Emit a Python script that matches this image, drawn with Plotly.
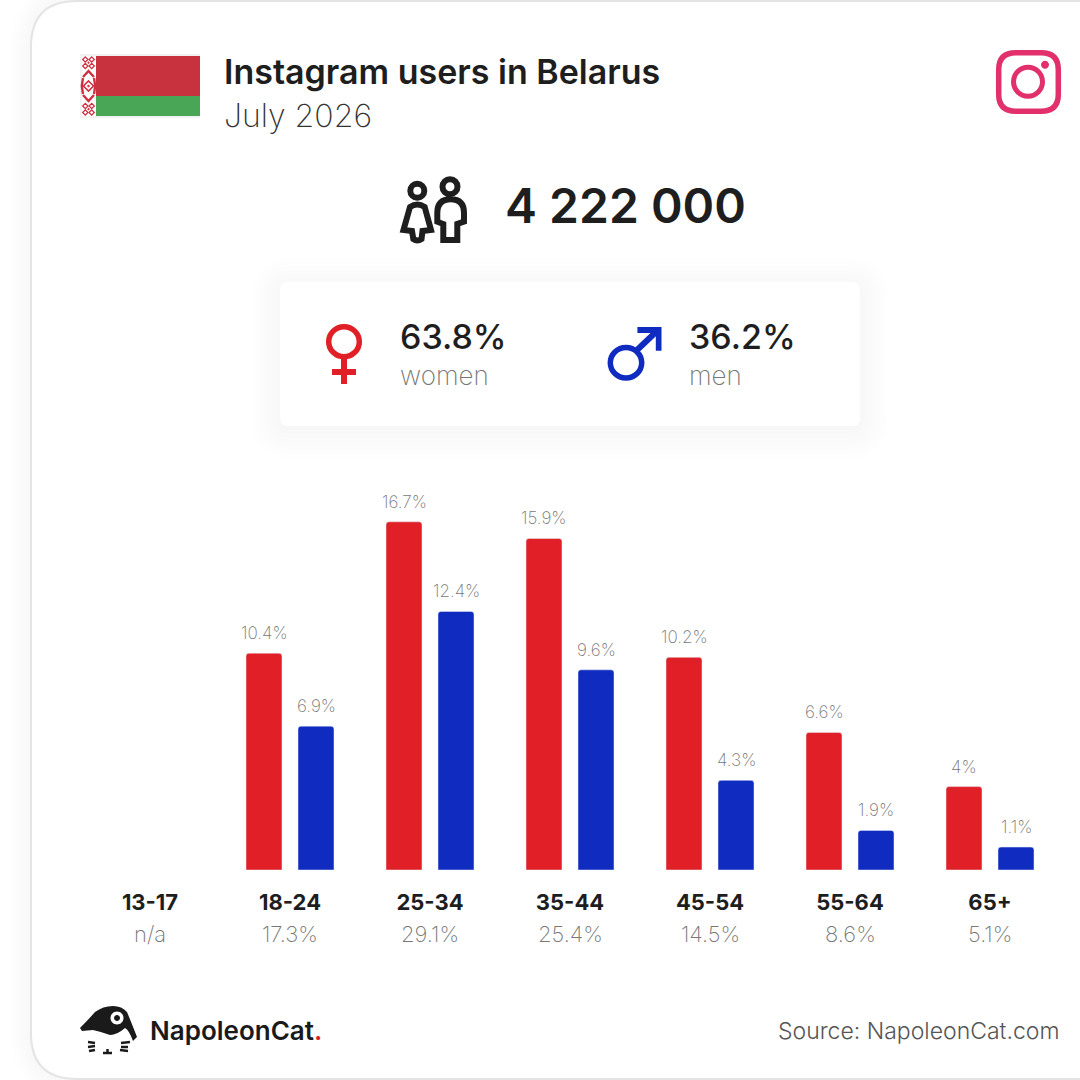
import plotly.graph_objects as go

# values
age_groups = ["13-17", "18-24", "25-34", "35-44", "45-54", "55-64", "65+"]
women = [None, 10.4, 16.7, 15.9, 10.2, 6.6, 4]
men = [None, 6.9, 12.4, 9.6, 4.3, 1.9, 1.1]
totals = ["n/a", "17.3%", "29.1%", "25.4%", "14.5%", "8.6%", "5.1%"]

RED = "#e01f26"
BLUE = "#0f2bc0"
DARK = "#1e1e1e"
GREY = "#777777"
FLAG_RED = "#cf3040"
FONT = "Inter"
W = 1080


def px(x):
    return x / W


def py(y):
    return 1 - y / W


def path(*parts):
    # parts are SVG commands given in pixels from the top left of the window
    out = []
    for p in parts:
        if isinstance(p, str):
            out.append(p)
        else:
            out.append(f"{px(p[0]):.5f},{py(p[1]):.5f}")
    return " ".join(out)


def poly(*pts):
    d = ["M", pts[0]]
    for p in pts[1:]:
        d += ["L", p]
    return path(*d, "Z")


def rounded(x0, y0, x1, y1, r):
    return path("M", (x0 + r, y0), "L", (x1 - r, y0), "Q", (x1, y0), (x1, y0 + r),
                "L", (x1, y1 - r), "Q", (x1, y1), (x1 - r, y1),
                "L", (x0 + r, y1), "Q", (x0, y1), (x0, y1 - r),
                "L", (x0, y0 + r), "Q", (x0, y0), (x0 + r, y0), "Z")


def oval(cx, cy, rx, ry):
    kx, ky = 0.5523 * rx, 0.5523 * ry
    return path("M", (cx - rx, cy), "C", (cx - rx, cy - ky), (cx - kx, cy - ry), (cx, cy - ry),
                "C", (cx + kx, cy - ry), (cx + rx, cy - ky), (cx + rx, cy),
                "C", (cx + rx, cy + ky), (cx + kx, cy + ry), (cx, cy + ry),
                "C", (cx - kx, cy + ry), (cx - rx, cy + ky), (cx - rx, cy), "Z")


def circle(cx, cy, r):
    return oval(cx, cy, r, r)


def diamond(cx, cy, r):
    return poly((cx, cy - r), (cx + r, cy), (cx, cy + r), (cx - r, cy))


shapes = []


def add(d, fill=None, line=None, width=0):
    shapes.append(dict(type="path", xref="paper", yref="paper", path=d, layer="below",
                       fillcolor=fill or "rgba(0,0,0,0)",
                       line=dict(color=line or "rgba(0,0,0,0)", width=width)))


def label(text, x, y, size, color=DARK, weight=400, anchor="left"):
    return dict(text=text, xref="paper", yref="paper", x=px(x), y=py(y), showarrow=False,
                xanchor=anchor, yanchor="middle", align=anchor,
                font=dict(family=FONT, size=size, color=color, weight=weight))


# outer card with a soft shadow
for i in range(8):
    add(rounded(31 - 3 * i, 1 - 3 * i, 1200, 1079 + 3 * i, 46 + 3 * i), fill="rgba(0,0,0,0.004)")
add(rounded(31, 1, 1200, 1079, 46), fill="white", line="#e4e4e4", width=2)

# flag
add(rounded(80, 54, 200, 118, 0), fill="#f2f2f2")
add(rounded(82, 56, 96, 116, 0), fill="white")
add(rounded(96, 56, 200, 96, 0), fill="#c8323f")
add(rounded(96, 96, 200, 116, 0), fill="#4aa657")
# ornament strip
for cy in [59.5, 66, 106, 112.5]:
    for cx in [85.3, 91.7]:
        add(diamond(cx, cy, 2.6), line=FLAG_RED, width=1.3)
add(diamond(88.5, 62.7, 1.4), fill=FLAG_RED)
add(diamond(88.5, 109.2, 1.4), fill=FLAG_RED)
add(diamond(88.5, 86, 5), line=FLAG_RED, width=1.6)
add(diamond(88.5, 86, 1.6), fill=FLAG_RED)
for y0, y1 in [(77, 71), (95, 101)]:
    add(path("M", (83, y0), "L", (88.5, y1), "L", (94, y0)), line=FLAG_RED, width=2.4)
for x0, x1 in [(83, 81.8), (94, 95.2)]:
    add(path("M", (x0, 78), "L", (x1, 86), "L", (x0, 94)), line=FLAG_RED, width=2.4)

# instagram icon
add(rounded(998.7, 52.7, 1058.3, 111.3, 17), line="#e2306c", width=5.5)
add(circle(1028, 81.7, 14.5), line="#e2306c", width=5)
add(circle(1045, 64.7, 4), fill="#e2306c")

# people icon
add(circle(417.3, 190.7, 7), line=DARK, width=6)
add(circle(450, 186.7, 7.5), line=DARK, width=6)
add(path("M", (410, 207), "Q", (417.3, 202), (424.7, 207), "L", (431, 230), "L", (422.5, 231),
         "L", (421.5, 239), "Q", (417.3, 242), (413.3, 239), "L", (412, 231), "L", (403.5, 230), "Z"),
    line=DARK, width=6)
add(path("M", (443.3, 240), "L", (443.3, 224), "L", (437.3, 221.7), "L", (437.3, 213),
         "Q", (437.3, 199.3), (450.7, 199.3), "Q", (464, 199.3), (464, 213),
         "L", (464, 221.7), "L", (457.3, 224), "L", (457.3, 240), "Z"),
    line=DARK, width=6)

# gender box with its shadow
for i in range(8):
    add(rounded(280 - 4 * i, 282 - 4 * i + 4, 860 + 4 * i, 426 + 4 * i + 4, 8 + 4 * i), fill="rgba(0,0,0,0.004)")
add(rounded(280, 282, 860, 426, 8), fill="white")

add(oval(344, 341.7, 15.3, 15), line=RED, width=5.5)
add(rounded(341, 358, 347, 384, 0), fill=RED)
add(rounded(332, 369, 356, 375, 0), fill=RED)

add(oval(626, 362.8, 15.7, 15.2), line=BLUE, width=5.5)
add(path("M", (636, 351), "L", (657, 331)), line=BLUE, width=6)
add(poly((637.4, 327), (661.5, 327), (661.5, 350.7), (655.8, 350.7), (655.8, 333), (637.4, 333)), fill=BLUE)

# cat logo
add(path("M", (80, 1028), "Q", (88, 1020), (95, 1012), "Q", (103, 1006), (113, 1006), "Q", (122, 1006), (127, 1012),
         "Q", (132, 1024), (137, 1037), "L", (133, 1041), "Q", (129, 1030), (125, 1028), "Q", (117, 1035), (110, 1035),
         "Q", (102, 1032), (93, 1030), "L", (82, 1031), "Z"),
    fill="#1a1a1a")
add(circle(117, 1018, 6.5), fill="white")
add(circle(117, 1018, 3), fill="#1a1a1a")
for x0, y0, x1, y1 in [(88, 1042, 95, 1043), (88, 1047, 95, 1046), (89, 1051, 95, 1050),
                       (121, 1043, 130, 1042), (121, 1047, 128, 1047), (120, 1050, 128, 1051),
                       (103, 1053, 112, 1053), (107.5, 1049, 107.5, 1053)]:
    add(path("M", (x0, y0), "L", (x1, y1)), line="#1a1a1a", width=2.5)

annotations = [
    label("Instagram users in Belarus", 222, 71, 34, weight=600),
    label("July 2026", 222, 115, 32, color="#333333", weight=200),
    label("4 222 000", 503, 205, 48, weight=600),
    label("63.8%", 398, 336, 34, weight=500),
    label("women", 398, 376, 26, color=GREY, weight=200),
    label("36.2%", 687, 336, 34, weight=500),
    label("men", 687, 376, 26, color=GREY, weight=200),
    label('NapoleonCat<span style="color:#e01f26">.</span>', 148, 1030, 26, color="#1a1a1a", weight=600),
    label("Source: NapoleonCat.com", 1061, 1031, 23, color="#555555", weight=300, anchor="right"),
]

# bar values and the share under each age group
for cat, w, m, t in zip(age_groups, women, men, totals):
    annotations.append(dict(text=t, x=cat, xref="x", y=py(934), yref="paper", showarrow=False, yanchor="middle",
                            font=dict(family=FONT, size=22, color=GREY, weight=200)))
    for v, shift in [(w, -26), (m, 26)]:
        if v is None:
            continue
        annotations.append(dict(text=f"{v:g}%", x=cat, y=v, xshift=shift, yshift=8, showarrow=False,
                                yanchor="bottom", font=dict(family=FONT, size=17, color=GREY, weight=200)))

fig = go.Figure()
fig.add_trace(go.Bar(x=age_groups, y=women, name="women", marker=dict(color=RED)))
fig.add_trace(go.Bar(x=age_groups, y=men, name="men", marker=dict(color=BLUE)))

fig.update_layout(
    width=W, height=W,
    margin=dict(l=0, r=0, t=0, b=0),
    paper_bgcolor="white",
    plot_bgcolor="rgba(0,0,0,0)",
    barmode="group",
    bargap=0.257,
    bargroupgap=0.308,
    barcornerradius=3,
    showlegend=False,
    shapes=shapes,
    annotations=annotations,
    xaxis=dict(domain=[px(80), px(1060)], type="category", range=[-0.5, 6.5], showgrid=False, zeroline=False,
               showline=False, ticks="outside", ticklen=13, tickcolor="rgba(0,0,0,0)",
               tickvals=age_groups, ticktext=[f"<b>{a}</b>" for a in age_groups],
               tickfont=dict(family=FONT, size=22, color=DARK)),
    yaxis=dict(domain=[py(870), py(470)], range=[0, 400 / 20.85], visible=False),
)

# the figure is the full window, so the page margin has to go
fig.write_html("out.html", config={"displayModeBar": False}, post_script="document.body.style.margin = '0';")
